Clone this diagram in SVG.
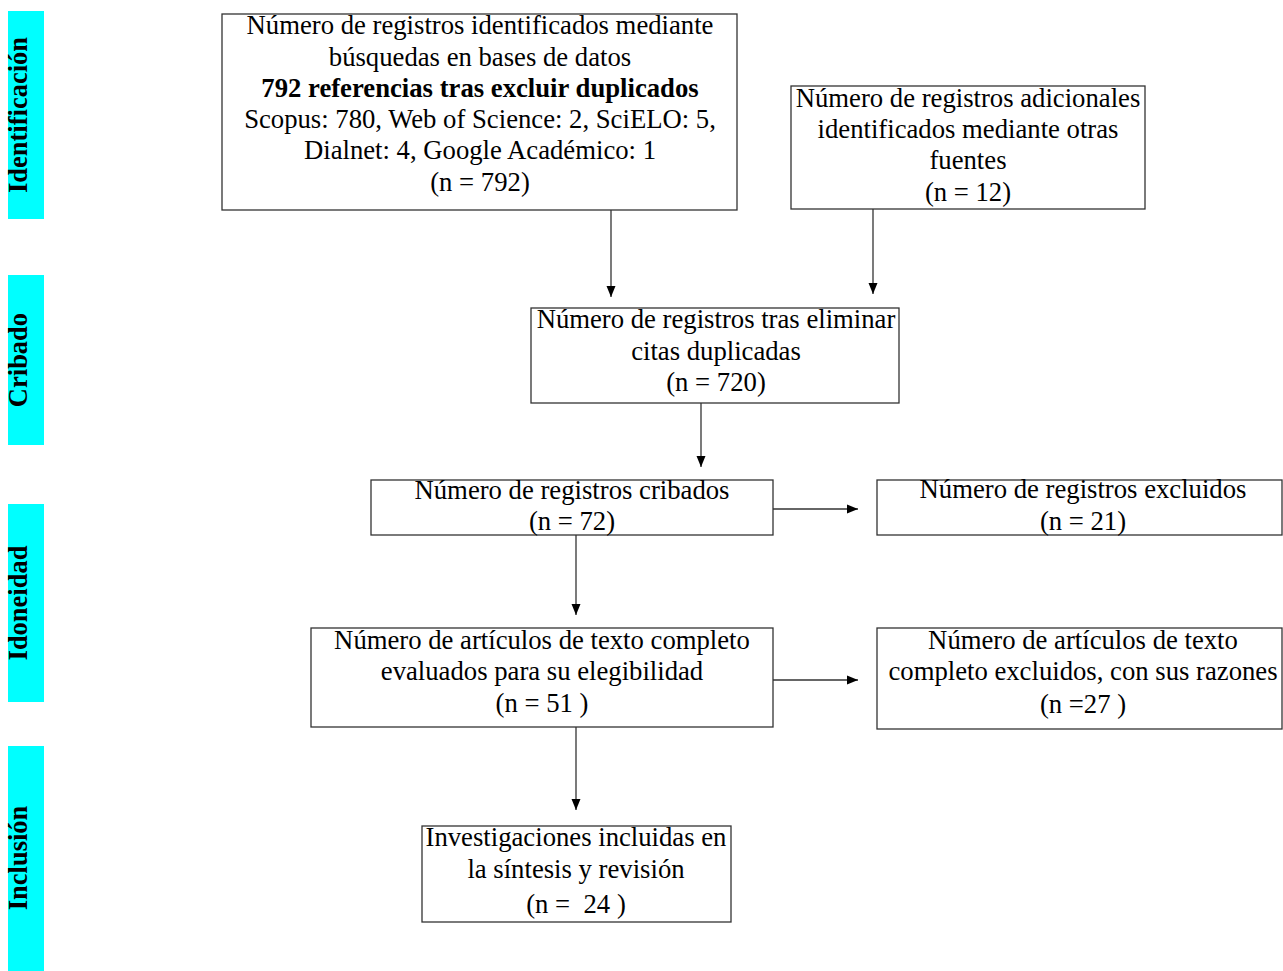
<svg xmlns="http://www.w3.org/2000/svg" width="1283" height="971" viewBox="0 0 1283 971">
<style>
.box{fill:#fff;stroke:#333;stroke-width:1.3}
.t{font-family:"Liberation Serif","Times New Roman",serif;font-size:26.7px;fill:#000;text-anchor:middle;white-space:pre}
.b{font-weight:bold}
.side{fill:#00ffff}
.st{font-family:"Liberation Serif","Times New Roman",serif;font-size:26.5px;font-weight:bold;fill:#000;text-anchor:middle}
.c{stroke:#333;stroke-width:1.3;fill:none;marker-end:url(#ah)}
</style>
<defs>
<marker id="ah" markerUnits="userSpaceOnUse" markerWidth="12" markerHeight="12" viewBox="0 0 12 12" refX="11" refY="6" orient="auto">
<path d="M0,1.5 L11,6 L0,10.5 Z" fill="#000"/>
</marker>
</defs>
<rect width="1283" height="971" fill="#fff"/>
<g id="phase-identificacion"><rect class="side" x="8" y="11" width="36" height="208"/><text class="st" transform="translate(27,115) rotate(-90)">Identificación</text></g>
<g id="phase-cribado"><rect class="side" x="8" y="275" width="36" height="170"/><text class="st" transform="translate(27,360) rotate(-90)">Cribado</text></g>
<g id="phase-idoneidad"><rect class="side" x="8" y="504" width="36" height="198"/><text class="st" transform="translate(27,603) rotate(-90)">Idoneidad</text></g>
<g id="phase-inclusion"><rect class="side" x="8" y="746" width="36" height="225"/><text class="st" transform="translate(27,858) rotate(-90)">Inclusión</text></g>
<g id="connectors">
<line class="c" x1="611" y1="210" x2="611" y2="297"/>
<line class="c" x1="873" y1="209" x2="873" y2="294"/>
<line class="c" x1="701" y1="403" x2="701" y2="467"/>
<line class="c" x1="773" y1="509" x2="858" y2="509"/>
<line class="c" x1="576" y1="535" x2="576" y2="615"/>
<line class="c" x1="773" y1="680" x2="858" y2="680"/>
<line class="c" x1="576" y1="727" x2="576" y2="810"/>
</g>
<g id="n1"><rect class="box" x="222" y="14" width="515" height="196"/>
<text class="t" x="480" y="34">Número de registros identificados mediante</text>
<text class="t" x="480" y="66">búsquedas en bases de datos</text>
<text class="t b" x="480" y="97">792 referencias tras excluir duplicados</text>
<text class="t" x="480" y="128">Scopus: 780, Web of Science: 2, SciELO: 5,</text>
<text class="t" x="480" y="159">Dialnet: 4, Google Académico: 1</text>
<text class="t" x="480" y="191">(n = 792)</text></g>
<g id="n2"><rect class="box" x="791" y="86" width="354" height="123"/>
<text class="t" x="968" y="107">Número de registros adicionales</text>
<text class="t" x="968" y="138">identificados mediante otras</text>
<text class="t" x="968" y="169">fuentes</text>
<text class="t" x="968" y="201">(n = 12)</text></g>
<g id="n3"><rect class="box" x="531" y="308" width="368" height="95"/>
<text class="t" x="716" y="328">Número de registros tras eliminar</text>
<text class="t" x="716" y="360">citas duplicadas</text>
<text class="t" x="716" y="391">(n = 720)</text></g>
<g id="n4"><rect class="box" x="371" y="480" width="402" height="55"/>
<text class="t" x="572" y="499">Número de registros cribados</text>
<text class="t" x="572" y="530">(n = 72)</text></g>
<g id="n5"><rect class="box" x="877" y="480" width="405" height="55"/>
<text class="t" x="1083" y="498">Número de registros excluidos</text>
<text class="t" x="1083" y="530">(n = 21)</text></g>
<g id="n6"><rect class="box" x="311" y="628" width="462" height="99"/>
<text class="t" x="542" y="649">Número de artículos de texto completo</text>
<text class="t" x="542" y="680">evaluados para su elegibilidad</text>
<text class="t" x="542" y="712">(n = 51 )</text></g>
<g id="n7"><rect class="box" x="877" y="628" width="405" height="101"/>
<text class="t" x="1083" y="649">Número de artículos de texto</text>
<text class="t" x="1083" y="680">completo excluidos, con sus razones</text>
<text class="t" x="1083" y="713">(n =27 )</text></g>
<g id="n8"><rect class="box" x="422" y="826" width="309" height="96"/>
<text class="t" x="576" y="846">Investigaciones incluidas en</text>
<text class="t" x="576" y="878">la síntesis y revisión</text>
<text class="t" x="576" y="913">(n =  24 )</text></g>
</svg>
